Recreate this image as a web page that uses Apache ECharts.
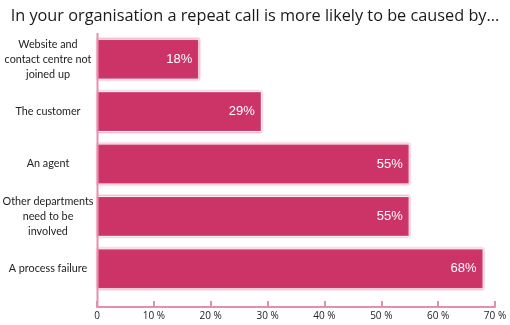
<!DOCTYPE html>
<html>
<head>
<meta charset="utf-8">
<script src="https://cdn.jsdelivr.net/npm/echarts@6/dist/echarts.min.js"></script>
<style>
  html, body { margin: 0; padding: 0; background: #ffffff; }
  #chart { width: 510px; height: 325px; }
</style>
</head>
<body>
<div id="chart"></div>
<script>
// Reasons a repeat call happens, top to bottom
const categories = [
  'Website and\ncontact centre not\njoined up',
  'The customer',
  'An agent',
  'Other departments\nneed to be\ninvolved',
  'A process failure'
];
const shares = [18, 29, 55, 55, 68];
const tickValues = [0, 10, 20, 30, 40, 50, 60, 70];

const BAR = '#cc3366';
const AXIS = '#e58fae';

const chart = echarts.init(document.getElementById('chart'), null, { renderer: 'canvas' });

chart.setOption({
  animation: false,
  backgroundColor: '#ffffff',
  title: {
    text: 'In your organisation a repeat call is more likely to be caused by...',
    left: 'center',
    top: 3,
    textStyle: { fontFamily: 'Open Sans', fontSize: 16.3, fontWeight: 'normal', color: '#1a1a1a' }
  },
  grid: { left: 97, right: 15, top: 33, bottom: 30, containLabel: false, outerBoundsMode: 'none' },
  xAxis: {
    type: 'value',
    min: 0,
    max: 70,
    interval: 10,
    offset: 12,
    axisLine: { show: true, lineStyle: { color: AXIS, width: 2 } },
    axisTick: { show: true, inside: true, length: 6, lineStyle: { color: AXIS, width: 2 } },
    splitLine: { show: false },
    axisLabel: {
      margin: 4,
      fontFamily: 'Open Sans',
      fontSize: 10,
      color: '#222',
      formatter: v => (tickValues.indexOf(v) === 0 ? '0' : v + ' %')
    }
  },
  yAxis: {
    type: 'category',
    inverse: true,
    data: categories,
    axisLine: { show: false },
    axisTick: { show: false },
    axisLabel: {
      margin: 49,
      align: 'center',
      fontFamily: 'Lato',
      fontSize: 10.8,
      lineHeight: 15,
      color: '#222'
    }
  },
  graphic: [{
    type: 'line',
    shape: { x1: 97.5, y1: 33, x2: 97.5, y2: 307 },
    style: { stroke: AXIS, lineWidth: 2 },
    z: 10
  }],
  series: [{
    type: 'bar',
    data: shares,
    barWidth: 41,
    itemStyle: {
      color: BAR,
      borderColor: '#ffffff',
      borderWidth: 1,
      shadowColor: 'rgba(220,100,150,1)',
      shadowBlur: 2
    },
    label: {
      show: true,
      position: 'insideRight',
      distance: 7,
      formatter: p => p.value + '%',
      fontFamily: 'Liberation Sans',
      fontSize: 13,
      color: '#ffffff'
    }
  }]
});
</script>
</body>
</html>
